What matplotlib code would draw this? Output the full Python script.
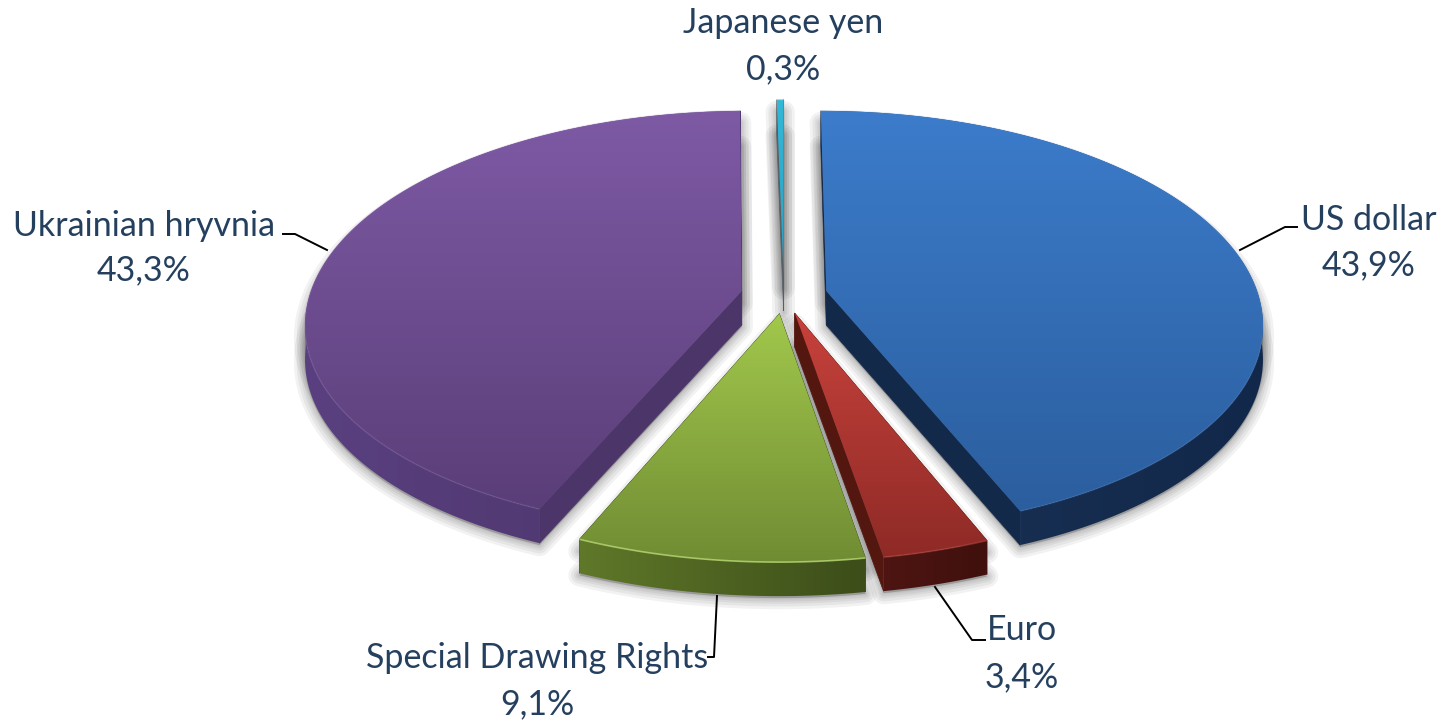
import numpy as np
import matplotlib
matplotlib.use('Agg')
import matplotlib.pyplot as plt
from matplotlib.collections import PolyCollection
from matplotlib.colors import to_rgb
from matplotlib.patches import Polygon

categories = ['US dollar', 'Euro', 'Special Drawing Rights', 'Ukrainian hryvnia', 'Japanese yen']
shares = [43.9, 3.4, 9.1, 43.3, 0.3]
share_labels = ['43,9%', '3,4%', '9,1%', '43,3%', '0,3%']

# top face gradient (back to front), outer wall (left to right), radial wall
top_colors = [('#3c7ccb', '#2b5e9e'), ('#c8423c', '#8e2a26'), ('#a2c84c', '#708c33'),
              ('#7e5aa5', '#5a3e78'), ('#33b8d8', '#2a9fc0')]
wall_colors = [('#1a3357', '#12284a'), ('#4e1512', '#3f100d'), ('#5f7829', '#3c4d19'),
               ('#5a4080', '#4a3468'), ('#1c6c80', '#1c6c80')]
side_colors = ['#13294a', '#54170f', '#3c4d19', '#4b3569', '#555f66']
rim_colors = ['#4f8bd6', '#b84a44', '#b7d873', '#8a6ab0', '#5fcce6']
rim_alpha = [0.2, 0.5, 0.8, 0.25, 0.3]
text_color = '#25405f'

# back slices first so the front ones paint over them
draw_order = [3, 0, 4, 2, 1]

cx, cy = 784, 295
radius_x, radius_y = 432, 207
persp_x, persp_y = 0.15, 0.143
explode = [0.1, 0.09, 0.09, 0.1, 0.09]
depth = 34

# x, y of centred labels and the leader line that goes with them
label_pos = [(1369, 220, 265), (1022, 630, 677), (537, 658, 704), (144, 226, 270), (783, 23, 69)]
leaders = [
    [(1240, 250), (1285, 227), (1297, 227)],
    [(935, 587), (972, 640), (985, 640)],
    [(717, 596), (714, 657), (708, 657)],
    [(327, 250), (295, 234), (283, 234)],
]


def project(u, v):
    x = cx + radius_x * u / (1 + persp_x * v)
    y = cy - radius_y * v / (1 + persp_y * v)
    return np.column_stack([x, y])


def gradient(ax, c1, c2, pts, vertical, z):
    # gradient image over the bounding box of pts, clipped to pts
    rows = np.linspace(0, 1, 256)
    colors = np.array([(np.array(to_rgb(c1)) * (1 - r) + np.array(to_rgb(c2)) * r) for r in rows])
    grad = colors.reshape(256, 1, 3) if vertical else colors.reshape(1, 256, 3)
    ext = [pts[:, 0].min(), pts[:, 0].max() + 1, pts[:, 1].max() + 1, pts[:, 1].min()]
    im = ax.imshow(grad, extent=ext, aspect='auto', zorder=z, interpolation='bilinear')
    im.set_clip_path(Polygon(pts, closed=True, transform=ax.transData))


fig = plt.figure(figsize=(14.45, 7.21), dpi=100)
ax = fig.add_axes([0, 0, 1, 1])

edges = np.cumsum([0] + shares) * 3.6
faces = []
arcs = []
for i in range(len(shares)):
    a1, a2 = np.radians(edges[i]), np.radians(edges[i + 1])
    mid = (a1 + a2) / 2
    du, dv = explode[i] * np.sin(mid), explode[i] * np.cos(mid)
    t = np.linspace(a1, a2, max(int(edges[i + 1] - edges[i]) * 2, 4))
    arc = project(np.sin(t) + du, np.cos(t) + dv)
    apex = project(np.array([du]), np.array([dv]))
    arcs.append(arc)
    faces.append(np.vstack([apex, arc]))

# soft shadow behind the whole pie
for i in range(len(shares)):
    for shift in (12, depth + 2):
        pts = faces[i] + [0, shift]
        for lw in (16, 12, 8, 5, 2):
            ax.add_patch(Polygon(pts, closed=True, facecolor='none', edgecolor='black',
                                 alpha=0.05, lw=lw, joinstyle='round', zorder=1))
        ax.add_patch(Polygon(pts, closed=True, facecolor='#9a9a9a', edgecolor='none', zorder=1))

z = 2
for i in draw_order:
    face = faces[i]
    arc = arcs[i]
    n = len(face)
    # radial walls
    quads = [np.array([face[0], face[1], face[1] + [0, depth], face[0] + [0, depth]]),
             np.array([face[0], face[n - 1], face[n - 1] + [0, depth], face[0] + [0, depth]])]
    ax.add_collection(PolyCollection(quads, facecolors=side_colors[i], edgecolors=side_colors[i],
                                     linewidths=0.5, zorder=z))
    z += 1
    # outer wall
    wall = np.vstack([arc, arc[::-1] + [0, depth]])
    gradient(ax, wall_colors[i][0], wall_colors[i][1], wall, False, z)
    z += 1
    # top face
    gradient(ax, top_colors[i][0], top_colors[i][1], face, True, z)
    z += 1
    ax.plot(arc[:, 0], arc[:, 1], color=rim_colors[i], lw=1.2, alpha=rim_alpha[i], zorder=z,
            solid_capstyle='butt')
    z += 1

for pts in leaders:
    xs, ys = zip(*pts)
    ax.plot(xs, ys, color='black', lw=1.4, zorder=z, solid_joinstyle='round')

for name, val, (x, y1, y2) in zip(categories, share_labels, label_pos):
    ax.text(x, y1, name, ha='center', va='center', fontsize=24.5, color=text_color, family='Lato', zorder=z + 1)
    ax.text(x, y2, val, ha='center', va='center', fontsize=24.5, color=text_color, family='Lato', zorder=z + 1)

ax.set_xlim(0, 1445)
ax.set_ylim(721, 0)
ax.axis('off')

fig.savefig('out.png', dpi=100)
